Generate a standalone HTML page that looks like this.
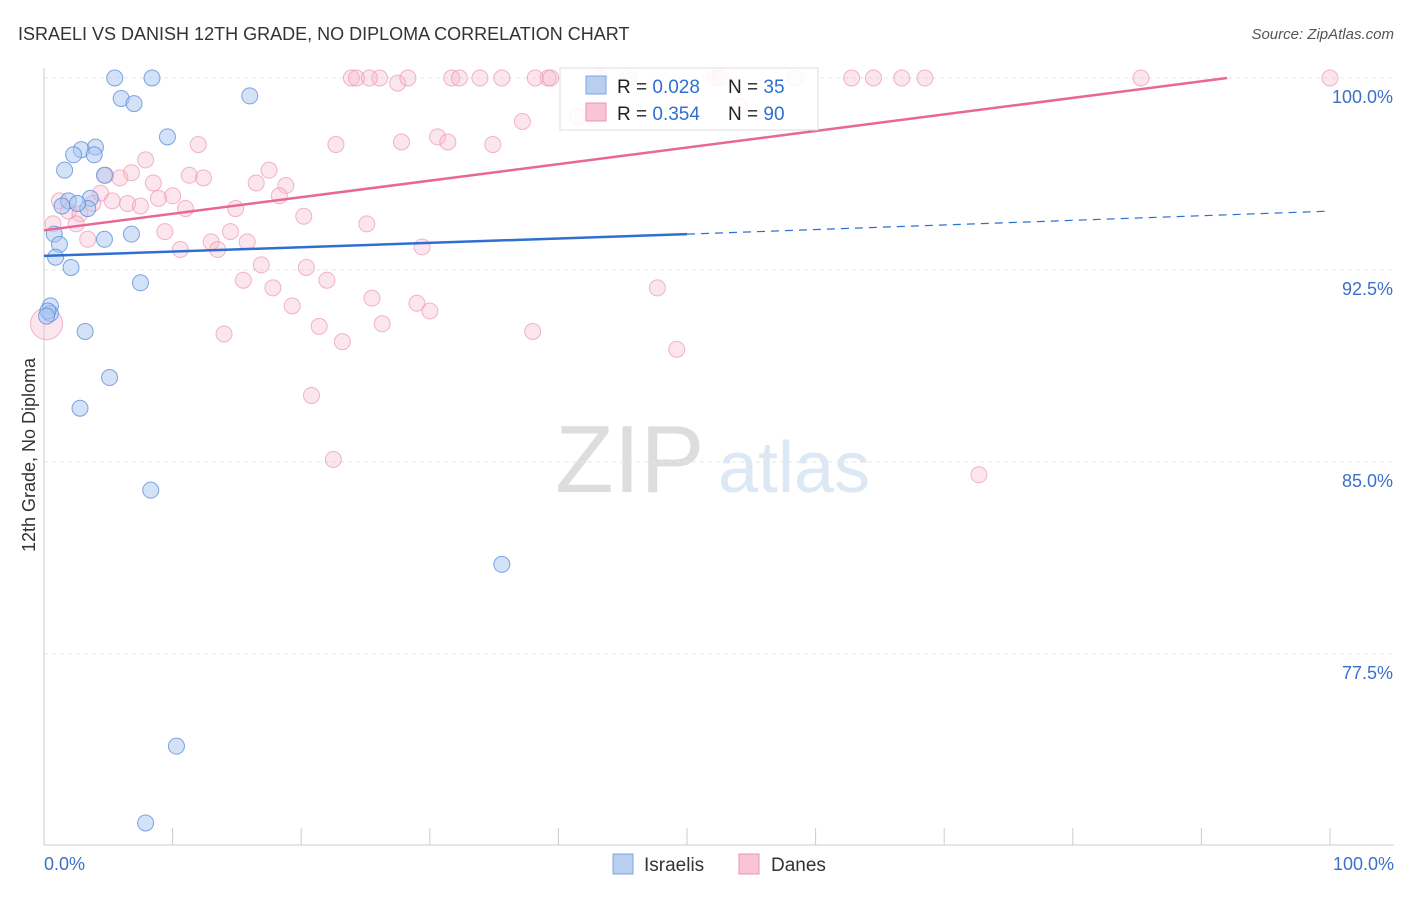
<!DOCTYPE html>
<html><head><meta charset="utf-8"><style>
body{margin:0;background:#fff;font-family:"Liberation Sans",sans-serif}
svg text{font-family:"Liberation Sans",sans-serif}
</style></head><body>
<svg id="c" width="1406" height="892">
<text x="18" y="40" font-size="18" fill="#333">ISRAELI VS DANISH 12TH GRADE, NO DIPLOMA CORRELATION CHART</text>
<text x="1394" y="39" font-size="15" fill="#555" font-style="italic" text-anchor="end">Source: ZipAtlas.com</text>
<text x="35" y="455" font-size="18" fill="#333" transform="rotate(-90 35 455)" text-anchor="middle">12th Grade, No Diploma</text>
<text x="555" y="492" font-size="96" fill="#ddd" font-family="Liberation Serif">ZIP</text>
<text x="718" y="492" font-size="72" fill="#dde8f5">atlas</text>
<g id="grid"></g><g id="pts"></g><g id="lines"></g>
<g>
<rect x="560" y="68" width="258" height="62" fill="#fff" fill-opacity="0.85" stroke="#ddd"/>
<rect x="586" y="76" width="20" height="18" fill="#b8cff0" stroke="#7fa6e0"/>
<rect x="586" y="103" width="20" height="18" fill="#f9c4d4" stroke="#eb93b0"/>
<text x="617" y="93" font-size="19" fill="#222">R = <tspan fill="#2f6fd0">0.028</tspan></text>
<text x="728" y="93" font-size="19" fill="#222">N = <tspan fill="#2f6fd0"> 35</tspan></text>
<text x="617" y="120" font-size="19" fill="#222">R = <tspan fill="#2f6fd0">0.354</tspan></text>
<text x="728" y="120" font-size="19" fill="#222">N = <tspan fill="#2f6fd0">90</tspan></text>
</g>
<g>
<rect x="613" y="854" width="20" height="20" fill="#b8cff0" stroke="#7fa6e0"/>
<text x="644" y="871" font-size="19" fill="#333">Israelis</text>
<rect x="739" y="854" width="20" height="20" fill="#f9c4d4" stroke="#eb93b0"/>
<text x="771" y="871" font-size="19" fill="#333">Danes</text>
</g>
</svg>
<script>
const yTicks=[100,92.5,85,77.5];
const yTickLabels=["100.0%","92.5%","85.0%","77.5%"];
const israeliX=[5.5,8.4,6.0,7.0,16.0,9.6,4.0,2.9,2.3,3.9,1.6,4.7,1.9,3.6,1.4,3.4,2.6,0.8,6.8,4.7,1.2,0.9,2.1,7.5,0.5,0.5,3.2,5.1,2.8,8.3,35.6,10.3,7.9,0.3,0.2];
const israeliY=[100,100,99.2,99.0,99.3,97.7,97.3,97.2,97.0,97.0,96.4,96.2,95.2,95.3,95.0,94.9,95.1,93.9,93.9,93.7,93.5,93.0,92.6,92.0,91.1,90.8,90.1,88.3,87.1,83.9,81.0,73.9,70.9,90.9,90.7];
const daneX=[23.9,24.3,26.1,25.3,27.5,28.3,31.7,32.3,33.9,35.6,38.2,39.2,39.4,43.2,45.4,52.2,52.6,58.4,62.8,64.5,66.7,68.5,85.3,100,54.1,41.5,37.2,22.7,27.8,30.6,31.4,34.9,12.0,7.9,17.5,4.8,6.8,11.3,12.4,5.9,8.5,16.5,18.8,4.4,10.0,8.9,5.3,6.5,7.5,18.3,1.2,3.8,11.0,14.9,1.9,2.8,20.2,2.5,25.1,0.7,9.4,14.5,3.4,13.0,15.8,10.6,13.5,29.4,16.9,20.4,15.5,22.0,17.8,47.7,25.5,19.3,29.0,30.0,21.4,26.3,38.0,14.0,23.2,49.2,20.8,22.5,72.7,0.2];
const daneY=[100,100,100,100,99.8,100,100,100,100,100,100,100,100,100,100,100,100,100,100,100,100,100,100,100,98.9,98.5,98.3,97.4,97.5,97.7,97.5,97.4,97.4,96.8,96.4,96.2,96.3,96.2,96.1,96.1,95.9,95.9,95.8,95.5,95.4,95.3,95.2,95.1,95.0,95.4,95.2,95.1,94.9,94.9,94.8,94.7,94.6,94.3,94.3,94.3,94.0,94.0,93.7,93.6,93.6,93.3,93.3,93.4,92.7,92.6,92.1,92.1,91.8,91.8,91.4,91.1,91.2,90.9,90.3,90.4,90.1,90.0,89.7,89.4,87.6,85.1,84.5,90.4];
const X=v=>44+v*12.86, Y=v=>78+(100-v)*25.6;
const NS="http://www.w3.org/2000/svg";
function mk(t,a,p){const e=document.createElementNS(NS,t);for(const k in a)e.setAttribute(k,a[k]);p.appendChild(e);return e;}
const g=document.getElementById('grid');
yTicks.forEach((t,i)=>{
 const l=mk('line',{x1:44,x2:1394,y1:Y(t),y2:Y(t),stroke:'#e6e6e6','stroke-dasharray':'4,4'},g);
 
 
 const tx=mk('text',{x:1393,y:Y(t)+25,'font-size':18,fill:'#3b70c8','text-anchor':'end'},g);
 tx.textContent=yTickLabels[i];
 
 
});
mk('line',{x1:44,x2:44,y1:68,y2:845,stroke:'#ccc'},g);
mk('line',{x1:44,x2:1394,y1:845,y2:845,stroke:'#ccc'},g);
for(let i=0;i<=10;i++){const tk=mk('line',{x1:X(i*10),x2:X(i*10),y1:828,y2:845,stroke:'#ccc'},g);
 
 }
const x0=mk('text',{x:44,y:870,'font-size':18,fill:'#3b70c8'},g);x0.textContent='0.0%';
const x1=mk('text',{x:1394,y:870,'font-size':18,fill:'#3b70c8','text-anchor':'end'},g);x1.textContent='100.0%';
const pg=document.getElementById('pts');
daneX.forEach((v,i)=>{const c=mk('circle',{cx:X(v),cy:Y(daneY[i]),r:i==daneX.length-1?16:8,fill:'#f7b8cc','fill-opacity':0.35,stroke:'#ec95b3','stroke-opacity':0.7},pg);
 
 });
israeliX.forEach((v,i)=>{const c=mk('circle',{cx:X(v),cy:Y(israeliY[i]),r:8,fill:'#a9c6ef','fill-opacity':0.5,stroke:'#5e90d8','stroke-opacity':0.8},pg);
 
 });
const lg=document.getElementById('lines');
let l=mk('line',{x1:X(0),y1:Y(93.05),x2:X(50),y2:Y(93.9),stroke:'#2f6fd0','stroke-width':2.5},lg);

l=mk('line',{x1:X(50),y1:Y(93.9),x2:X(100),y2:Y(94.8),stroke:'#2f6fd0','stroke-width':1.2,'stroke-dasharray':'8,6'},lg);

l=mk('line',{x1:X(0),y1:Y(94.05),x2:X(92),y2:Y(100),stroke:'#e8669a','stroke-width':2.5},lg);

</script>
</body></html>
